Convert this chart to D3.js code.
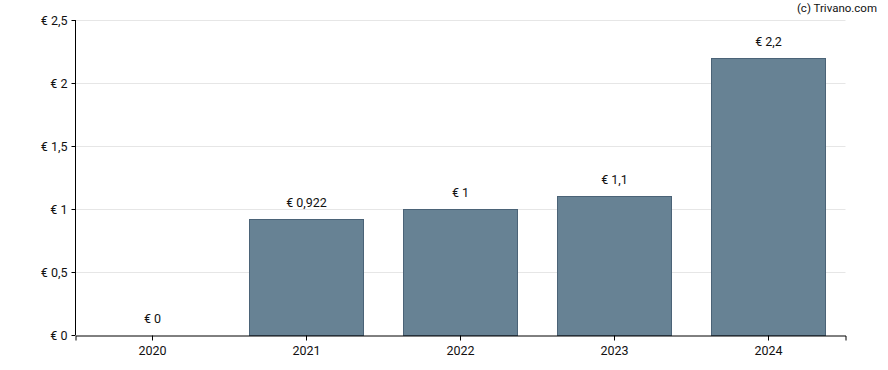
<!DOCTYPE html>
<html><head><meta charset="utf-8">
<script src="https://cdn.jsdelivr.net/npm/d3@7"></script>
<style>body{margin:0;background:#fff;}text{font-family:Roboto,"Noto Sans",sans-serif;}</style>
</head><body><svg id="c" width="888" height="370"></svg>
<script>
const categories = ["2020","2021","2022","2023","2024"];
const values = [0, 0.922, 1, 1.1, 2.2];
const labels = ["€ 0","€ 0,922","€ 1","€ 1,1","€ 2,2"];
const yTicks = [0, 0.5, 1, 1.5, 2, 2.5];
const yTickLabels = ["€ 0","€ 0,5","€ 1","€ 1,5","€ 2","€ 2,5"];

const svg = d3.select("#c");
const L = 75.5, R = 845.5, T = 20, B = 335;
const x = d3.scaleBand().domain(categories).range([L, R]).padding(0);
const y = d3.scaleLinear().domain([0, 2.5]).range([B, T]);
const barW = x.bandwidth() * 0.74;

svg.append("g").selectAll("line").data(yTicks.filter(d => d > 0)).join("line")
  .attr("x1", L).attr("x2", R).attr("y1", d => y(d) + 0.5).attr("y2", d => y(d) + 0.5)
  .attr("stroke", "#e6e6e6").attr("stroke-width", 1);

svg.append("g").selectAll("rect").data(values).join("rect")
  .attr("x", (d, i) => Math.floor(x(categories[i]) + (x.bandwidth() - barW) / 2) + 0.5)
  .attr("y", d => Math.round(y(d)) + 0.5)
  .attr("width", Math.round(barW))
  .attr("height", d => Math.max(0, Math.round(y(0)) - Math.round(y(d))))
  .attr("fill", "#678294").attr("stroke", "#4b6377").attr("stroke-width", 1)
  .attr("display", d => d > 0 ? null : "none");

svg.append("g").selectAll("text").data(values).join("text")
  .attr("x", (d, i) => x(categories[i]) + x.bandwidth() / 2)
  .attr("y", d => y(d) - 12)
  .attr("text-anchor", "middle").attr("font-size", 12.5).attr("fill", "#111")
  .text((d, i) => labels[i]);

const ya = svg.append("g").attr("transform", `translate(${L},0)`)
  .call(d3.axisLeft(y).tickValues(yTicks).tickFormat((d, i) => yTickLabels[i]).tickSizeOuter(0).tickSize(4).tickPadding(4));
const xa = svg.append("g").attr("transform", `translate(0,${B + 0.5})`)
  .call(d3.axisBottom(x).tickSizeOuter(0).tickSize(5).tickPadding(6));
[ya, xa].forEach(a => {
  a.selectAll("path").attr("stroke", "#000");
  a.selectAll("line").attr("stroke", "#000");
  a.selectAll("text").attr("font-size", 12.5).attr("fill", "#111").attr("font-family", "Roboto,sans-serif");
});
ya.select(".domain").attr("d", `M0,${T}V${B}`);

svg.append("text").attr("x", 877).attr("y", 12).attr("text-anchor", "end")
  .attr("font-size", 11.5).attr("fill", "#111").text("(c) Trivano.com");
</script></body></html>
